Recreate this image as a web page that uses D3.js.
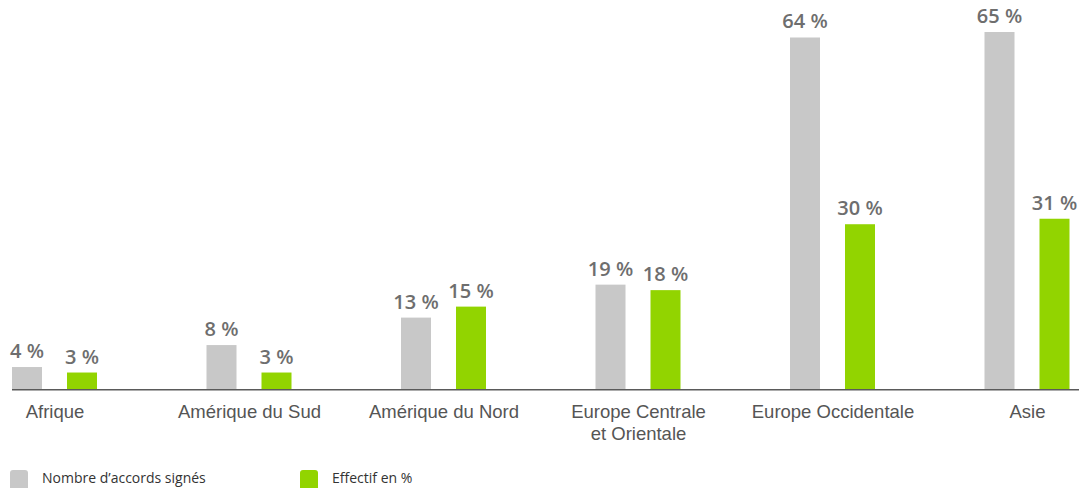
<!DOCTYPE html>
<html><head><meta charset="utf-8">
<script src="https://cdn.jsdelivr.net/npm/d3@7"></script>
<style>body{margin:0;background:#fff;}svg{display:block;}</style>
</head><body>
<svg id="chart" width="1079" height="488"></svg>
<script>
const categories = [["Afrique"],["Amérique du Sud"],["Amérique du Nord"],["Europe Centrale","et Orientale"],["Europe Occidentale"],["Asie"]];
const seriesNames = ["Nombre d’accords signés","Effectif en %"];
const accords = [4, 8, 13, 19, 64, 65];
const effectif = [3, 3, 15, 18, 30, 31];
const colors = ["#c8c8c8","#92d400"];

const svg = d3.select("#chart");
const baseY = 389;
const y = d3.scaleLinear().domain([0, 65]).range([baseY, 32]);
const x = d3.scaleBand().domain(d3.range(categories.length)).range([12, 12 + 194.5 * 6]);
const bw = 30;
const offsets = [0, 55];
const gx = i => x(i);

[accords, effectif].forEach((vals, s) => {
  svg.append("g").selectAll("rect").data(vals).join("rect")
    .attr("x", (d,i) => gx(i) + offsets[s])
    .attr("y", d => y(d))
    .attr("width", bw)
    .attr("height", d => baseY - y(d))
    .attr("fill", colors[s]);
  svg.append("g").selectAll("text").data(vals).join("text")
    .attr("x", (d,i) => gx(i) + offsets[s] + bw/2)
    .attr("y", d => y(d) - 9)
    .attr("text-anchor", "middle")
    .attr("font-family", "'Open Sans', sans-serif")
    .attr("font-weight", 600)
    .attr("font-size", 20)
    .attr("fill", "#6e6e6e")
    .text(d => d + "\u00a0%");
});

// axis line
svg.append("line").attr("x1", 12).attr("x2", 1079).attr("y1", baseY + 0.75).attr("y2", baseY + 0.75)
  .attr("stroke", "#5a5a5a").attr("stroke-width", 1.5);

// category labels
const cl = svg.append("g").selectAll("text").data(categories).join("text")
  .attr("x", (d,i) => gx(i) + 43)
  .attr("y", 418)
  .attr("text-anchor", "middle")
  .attr("font-family", "'Liberation Sans', Arial, sans-serif")
  .attr("font-size", 18.5)
  .attr("fill", "#555");
cl.selectAll("tspan").data(d => d).join("tspan")
  .attr("x", function(){ return this.parentNode.getAttribute("x"); })
  .attr("dy", (d,i) => i === 0 ? 0 : 22)
  .text(d => d);

// legend
const lx = [10, 300];
seriesNames.forEach((n, s) => {
  svg.append("rect").attr("x", lx[s]).attr("y", 470).attr("width", 18).attr("height", 22).attr("rx", 3).attr("fill", colors[s]);
  svg.append("text").attr("x", lx[s] + 32).attr("y", 483)
    .attr("font-family", "'Open Sans', sans-serif").attr("font-size", 14).attr("fill", "#333").text(n);
});
</script>
</body></html>
